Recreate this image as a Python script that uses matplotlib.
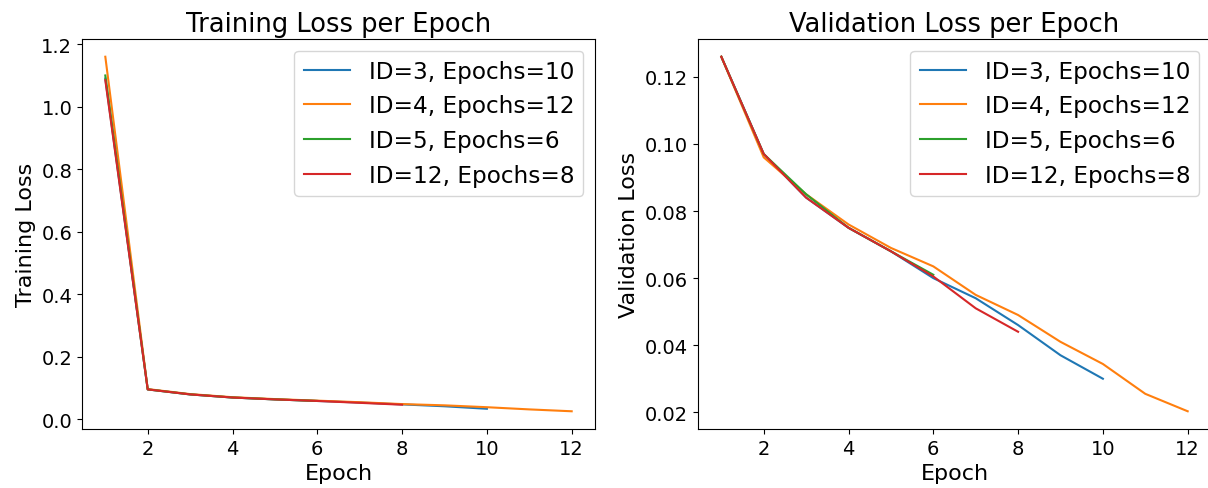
import numpy as np
import matplotlib
matplotlib.use("Agg")
import matplotlib.pyplot as plt

# run labels
labels = ["ID=3, Epochs=10", "ID=4, Epochs=12", "ID=5, Epochs=6", "ID=12, Epochs=8"]

# training loss per run
train_id3 = [1.09, 0.095, 0.079, 0.069, 0.063, 0.058, 0.053, 0.047, 0.041, 0.033]
train_id4 = [1.16, 0.096, 0.080, 0.070, 0.064, 0.059, 0.054, 0.048, 0.044, 0.038, 0.031, 0.025]
train_id5 = [1.10, 0.095, 0.079, 0.069, 0.063, 0.058]
train_id12 = [1.085, 0.095, 0.079, 0.069, 0.063, 0.058, 0.052, 0.046]

# validation loss per run
val_id3 = [0.126, 0.097, 0.084, 0.075, 0.068, 0.060, 0.054, 0.046, 0.037, 0.030]
val_id4 = [0.126, 0.096, 0.085, 0.076, 0.069, 0.0635, 0.055, 0.049, 0.041, 0.0344, 0.0255, 0.0203]
val_id5 = [0.126, 0.097, 0.085, 0.075, 0.068, 0.061]
val_id12 = [0.126, 0.097, 0.084, 0.075, 0.068, 0.0605, 0.051, 0.044]

train_runs = [train_id3, train_id4, train_id5, train_id12]
val_runs = [val_id3, val_id4, val_id5, val_id12]

W, H = 1208, 489
fig = plt.figure(figsize=(W / 100, H / 100), dpi=100)
# the source image is cropped on the right, so the second axes runs past the edge
ax1 = fig.add_axes([82 / W, 1 - 430 / H, 513 / W, 390 / H])
ax2 = fig.add_axes([698 / W, 1 - 430 / H, 513 / W, 390 / H])

for lab, tr, va in zip(labels, train_runs, val_runs):
    ax1.plot(np.arange(1, len(tr) + 1), tr, label=lab)
    ax2.plot(np.arange(1, len(va) + 1), va, label=lab)

ax1.set_title("Training Loss per Epoch", fontsize=18.5)
ax1.set_xlabel("Epoch", fontsize=16)
ax1.set_ylabel("Training Loss", fontsize=16)
ax1.legend(fontsize=16.7, loc="upper right")
ax1.tick_params(labelsize=14)

ax2.set_title("Validation Loss per Epoch", fontsize=18.5)
ax2.set_xlabel("Epoch", fontsize=16)
ax2.set_ylabel("Validation Loss", fontsize=16)
ax2.legend(fontsize=16.7, loc="upper right")
ax2.tick_params(labelsize=14)

fig.savefig("out.png", dpi=100)
